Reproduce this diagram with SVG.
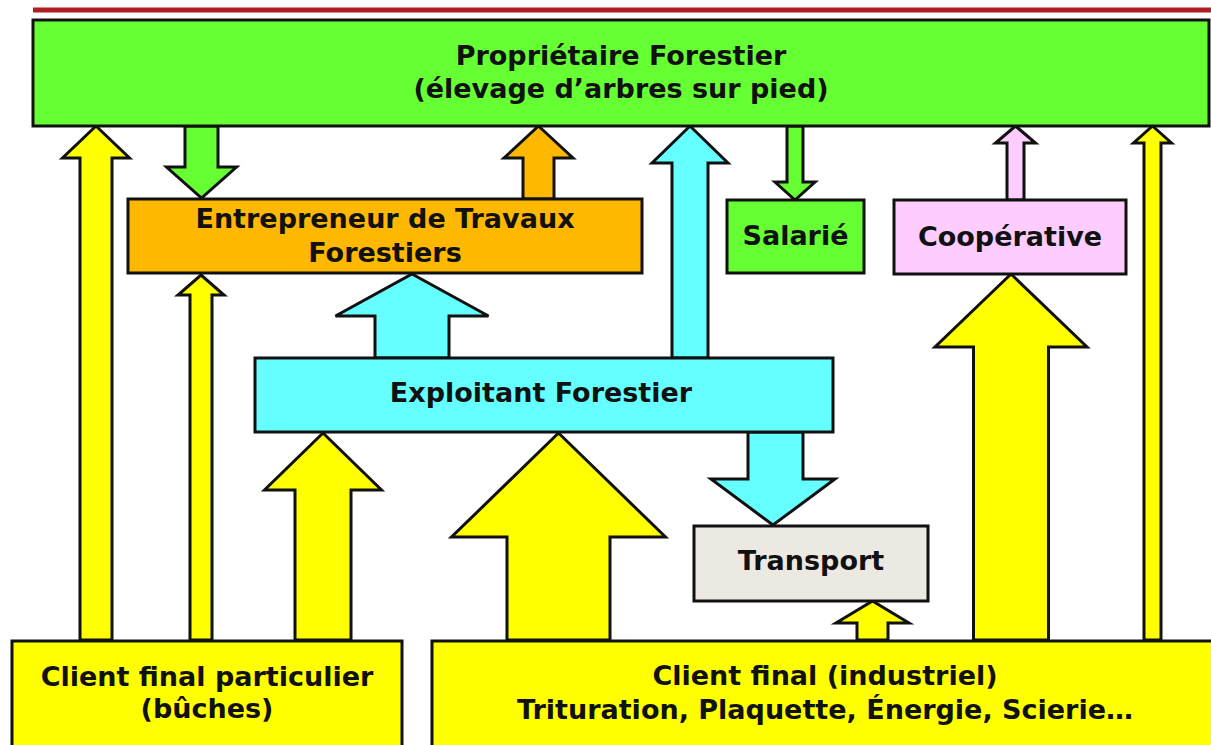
<svg xmlns="http://www.w3.org/2000/svg" width="1211" height="745" viewBox="0 0 1211 745">
<style>
.box{stroke:#111;stroke-width:3}
.arr{stroke:#111;stroke-width:3;stroke-linejoin:miter}
.g{fill:#66ff33}.o{fill:#ffb800}.c{fill:#66ffff}.p{fill:#ffccff}.y{fill:#ffff00}.t{fill:#ece9e3}
text{font-family:"DejaVu Sans","Liberation Sans",sans-serif;font-weight:bold;font-size:27px;fill:#111;text-anchor:middle}
</style>
<rect x="0" y="0" width="1211" height="745" fill="#ffffff"/>
<line x1="33" y1="10" x2="1211" y2="10" stroke="#b01e23" stroke-width="5"/>
<g id="connectors">
<polygon class="arr y" points="96,126 129.5,158 112,158 112,640 80,640 80,158 62.5,158"/>
<polygon class="arr g" points="185,126 218,126 218,167 236.5,167 201.5,198 166.5,167 185,167"/>
<polygon class="arr y" points="201,275 224,295 212,295 212,640 190,640 190,295 178,295"/>
<polygon class="arr o" points="538.5,126 573,158 554,158 554,199 523,199 523,158 504,158"/>
<polygon class="arr c" points="690,126 728,163 708,163 708,358 672,358 672,163 652,163"/>
<polygon class="arr g" points="787,126 803,126 803,182 815,182 795,200 775,182 787,182"/>
<polygon class="arr p" points="1015.5,126 1035.5,143 1024,143 1024,200 1007,200 1007,143 995.5,143"/>
<polygon class="arr y" points="1152.5,126 1171.5,143 1161,143 1161,640 1144,640 1144,143 1133.5,143"/>
<polygon class="arr c" points="412,274 488.5,316 449,316 449,358 375,358 375,316 335.5,316"/>
<polygon class="arr y" points="323,433 381.5,490 351,490 351,640 295,640 295,490 264.5,490"/>
<polygon class="arr y" points="558.5,433 665.5,537 610,537 610,640 507,640 507,537 451.5,537"/>
<polygon class="arr c" points="748,432 803,432 803,479 835,479 773,525 711,479 748,479"/>
<polygon class="arr y" points="872.5,601 909,623 888,623 888,640 857,640 857,623 836,623"/>
<polygon class="arr y" points="1011,274 1087,347 1048.5,347 1048.5,640 973.5,640 973.5,347 935,347"/>
</g>
<g id="proprietaire">
<rect class="box g" x="33" y="20" width="1176" height="106"/>
<text x="621" y="65">Propriétaire Forestier</text>
<text x="621" y="98">(élevage d’arbres sur pied)</text>
</g>
<g id="entrepreneur">
<rect class="box o" x="128" y="199" width="514" height="74"/>
<text x="385" y="228">Entrepreneur de Travaux</text>
<text x="385" y="262">Forestiers</text>
</g>
<g id="salarie">
<rect class="box g" x="727" y="200" width="137" height="73"/>
<text x="795.5" y="245">Salarié</text>
</g>
<g id="cooperative">
<rect class="box p" x="894" y="200" width="232" height="74"/>
<text x="1010" y="246">Coopérative</text>
</g>
<g id="exploitant">
<rect class="box c" x="255" y="358" width="578" height="74"/>
<text x="541" y="402">Exploitant Forestier</text>
</g>
<g id="transport">
<rect class="box t" x="694" y="526" width="234" height="75"/>
<text x="811" y="570">Transport</text>
</g>
<g id="client-particulier">
<rect class="box y" x="12" y="641" width="390" height="110"/>
<text x="207" y="686">Client final particulier</text>
<text x="207" y="718">(bûches)</text>
</g>
<g id="client-industriel">
<rect class="box y" x="432" y="641" width="790" height="110"/>
<text x="825" y="685">Client final (industriel)</text>
<text x="825" y="719">Trituration, Plaquette, Énergie, Scierie…</text>
</g>
</svg>
